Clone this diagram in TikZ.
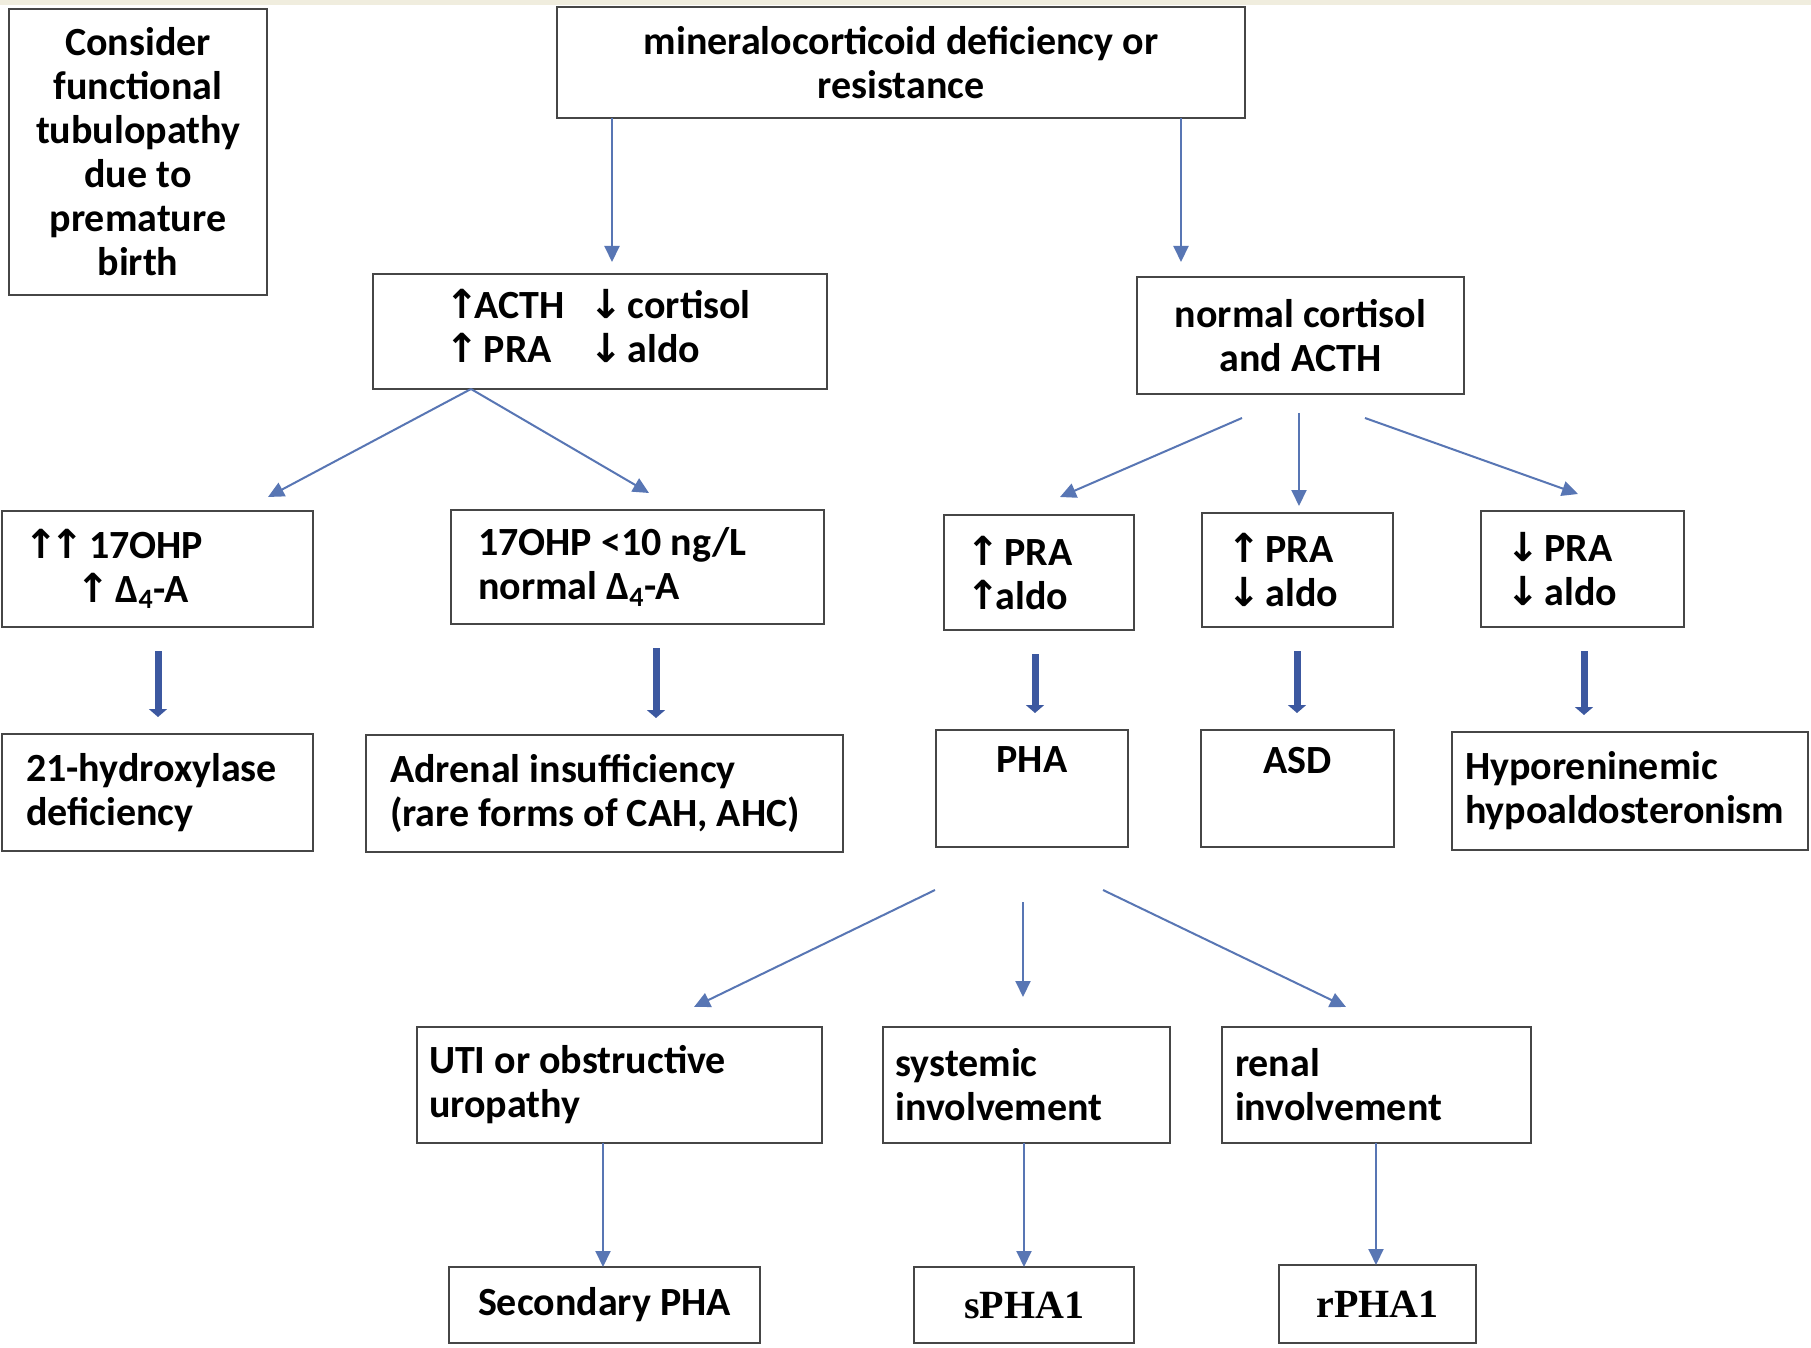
\documentclass[tikz,border=0pt]{standalone}
\usepackage{fontspec}
\setmainfont{Carlito}
\newfontfamily\arrfont{DejaVu Sans}
\newfontfamily\serifb{Liberation Serif}
\usetikzlibrary{arrows.meta}
\definecolor{boxline}{RGB}{70,70,70}
\definecolor{thinblue}{RGB}{88,118,180}
\definecolor{thickblue}{RGB}{60,88,160}
\definecolor{strip}{RGB}{240,237,222}
\newcommand{\UA}{\leavevmode{\arrfont\kern-0.1em\char"2191\kern-0.1em}}
\newcommand{\DA}{\leavevmode{\arrfont\kern-0.1em\char"2193\kern-0.1em}}
\tikzset{
  box/.style={draw=boxline, line width=1.2pt, inner sep=0pt, outer sep=0pt,
    font=\bfseries\fontsize{20}{22}\selectfont},
  lbox/.style={box, align=flush left},
  cbox/.style={box, align=center},
  tarr/.style={draw=thinblue, line width=1pt, -{Triangle[length=8pt,width=7.5pt]}},
  karr/.style={draw=thickblue, line width=3.5pt, -{Triangle[length=4pt,width=9pt]},
    shorten <=12pt, shorten >=8.5pt}
}
\begin{document}
\begin{tikzpicture}[x=0.5pt, y=-0.5pt]
\useasboundingbox (0,0) rectangle (1811,1348);
\fill[white] (0,0) rectangle (1811,1348);
\fill[strip] (0,0) rectangle (1811,5);

% row 0
\node[cbox, minimum width=129pt, minimum height=143pt] (consider) at (138,152)
  {Consider\\functional\\tubulopathy\\due to\\premature\\birth};
\node[cbox, minimum width=344pt, minimum height=55.5pt] (top) at (901,62.5)
  {mineralocorticoid deficiency or\\resistance};

% row 1
\node[box, minimum width=227pt, minimum height=57.5pt] (acth) at (600,331.5)
  {\begin{tabular}{@{}l@{}l@{}}\makebox[72pt][l]{\UA ACTH} & \DA\ cortisol\\ \makebox[72pt][l]{\UA\ PRA} & \DA\ aldo\end{tabular}};
\node[cbox, minimum width=163.5pt, minimum height=58.5pt] (normal) at (1300.5,335.5)
  {normal cortisol\\and ACTH};

% row 2
\node[lbox, text width=128.5pt, minimum width=155.5pt, minimum height=58pt] (ohp) at (157.5,569)
  {\UA\UA\ 17OHP\\\hspace*{26pt}\UA\ Δ\textsubscript{4}-A};
\node[lbox, text width=159.5pt, minimum width=186.5pt, minimum height=57pt] (ohp10) at (637.5,567)
  {17OHP <10 ng/L\\normal Δ\textsubscript{4}-A};
\node[lbox, text width=69pt, minimum width=95pt, minimum height=57.5pt] (puau) at (1039,572.5)
  {\UA\ PRA\\\UA aldo};
\node[lbox, text width=66.5pt, minimum width=95.5pt, minimum height=57pt] (puad) at (1297.5,570)
  {\UA\ PRA\\\DA\ aldo};
\node[lbox, text width=72.5pt, minimum width=101.5pt, minimum height=58pt] (pdad) at (1582.5,569)
  {\DA\ PRA\\\DA\ aldo};

% row 3
\node[lbox, text width=131.5pt, minimum width=155.5pt, minimum height=58.5pt] (hydrox) at (157.5,792.5)
  {21-hydroxylase\\deficiency};
\node[lbox, text width=214.5pt, minimum width=238.5pt, minimum height=58.5pt] (adrenal) at (604.5,793.5)
  {Adrenal insufficiency\\(rare forms of CAH, AHC)};
\node[cbox, minimum width=96pt, minimum height=58.5pt] (pha) at (1032,788.5)
  {PHA\\\strut};
\node[cbox, minimum width=96.5pt, minimum height=58.5pt] (asd) at (1297.5,788.5)
  {ASD\\\strut};
\node[lbox, text width=165pt, minimum width=178pt, minimum height=59pt] (hypo) at (1630,791)
  {Hyporeninemic\\hypoaldosteronism};

% row 4
\node[lbox, text width=190.5pt, minimum width=202.5pt, minimum height=58pt] (uti) at (619.5,1085)
  {UTI or obstructive\\uropathy};
\node[lbox, text width=131pt, minimum width=143.5pt, minimum height=58pt] (systemic) at (1026.5,1085)
  {systemic\\involvement};
\node[lbox, text width=141.5pt, minimum width=154.5pt, minimum height=58pt] (renal) at (1376.5,1085)
  {renal\\involvement};

% row 5
\node[cbox, minimum width=155.5pt, minimum height=38pt] (secpha) at (604.5,1305)
  {Secondary PHA};
\node[cbox, minimum width=110pt, minimum height=38pt, font=\serifb\bfseries\fontsize{20}{22}\selectfont] (spha) at (1024,1305)
  {sPHA1};
\node[cbox, minimum width=98.5pt, minimum height=39pt, font=\serifb\bfseries\fontsize{20}{22}\selectfont] (rpha) at (1377.5,1304)
  {rPHA1};

% connectors
\draw[tarr, shorten >=6pt] (top.south -| 612,0) -- (acth.north -| 612,0);
\draw[tarr, shorten >=7.5pt] (top.south -| 1181,0) -- (normal.north -| 1181,0);

\draw[tarr] ([shift={(-129,0)}]acth.south) -- ([shift={(110.5,-14)}]ohp.north);
\draw[tarr] ([shift={(-129,0)}]acth.south) -- ([shift={(11.5,-17)}]ohp10.north);

\draw[tarr] ([shift={(-58.5,24)}]normal.south) -- ([shift={(21,-18)}]puau.north);
\draw[tarr] ([shift={(-1.5,19)}]normal.south) -- ([shift={(1.5,-7)}]puad.north);
\draw[tarr] ([shift={(64.5,24)}]normal.south) -- ([shift={(-4.5,-17)}]pdad.north);

\draw[karr] (ohp.south -| 158,0) -- (hydrox.north -| 158,0);
\draw[karr] (ohp10.south -| 656,0) -- (adrenal.north -| 656,0);
\draw[karr] (puau.south -| 1035,0) -- (pha.north -| 1035,0);
\draw[karr] (puad.south -| 1297,0) -- (asd.north -| 1297,0);
\draw[karr] (pdad.south -| 1584,0) -- (hypo.north -| 1584,0);

\draw[tarr] ([shift={(-97,43)}]pha.south) -- ([shift={(74.5,-20)}]uti.north);
\draw[tarr] ([shift={(-9,55)}]pha.south) -- ([shift={(-3.5,-30)}]systemic.north);
\draw[tarr] ([shift={(71,43)}]pha.south) -- ([shift={(-30.5,-20)}]renal.north);

\draw[tarr] (uti.south -| 603,0) -- (secpha.north -| 603,0);
\draw[tarr] (systemic.south -| 1024,0) -- (spha.north -| 1024,0);
\draw[tarr] (renal.south -| 1376,0) -- (rpha.north -| 1376,0);
\end{tikzpicture}
\end{document}
